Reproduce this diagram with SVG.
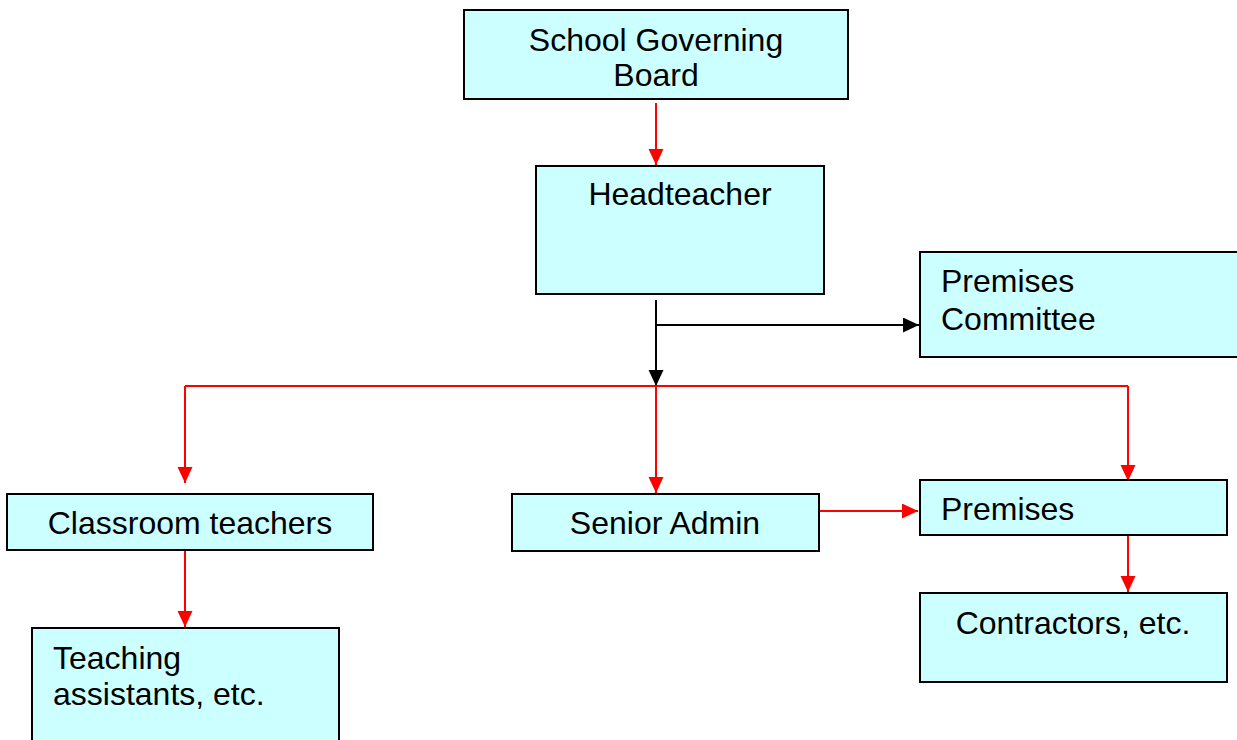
<svg xmlns="http://www.w3.org/2000/svg" width="1237" height="740" viewBox="0 0 1237 740">
<style>
.box{fill:#CCFFFF;stroke:#000;stroke-width:2}
.t{font-family:"Liberation Sans",Arial,sans-serif;font-size:32px;fill:#000}
.c{text-anchor:middle}
.red{stroke:#FF0000;stroke-width:2;fill:none}
.blk{stroke:#000;stroke-width:2;fill:none}
</style>
<defs>
<marker id="ar" markerUnits="userSpaceOnUse" markerWidth="17" markerHeight="16" refX="16" refY="7.5" orient="auto">
<path d="M0,0 L16,7.5 L0,15 Z" fill="#FF0000"/>
</marker>
<marker id="ab" markerUnits="userSpaceOnUse" markerWidth="17" markerHeight="16" refX="16" refY="7.5" orient="auto">
<path d="M0,0 L16,7.5 L0,15 Z" fill="#000"/>
</marker>
</defs>
<rect width="1237" height="740" fill="#fff"/>
<g id="connectors">
<line class="red" x1="656" y1="103" x2="656" y2="165" marker-end="url(#ar)"/>
<line class="blk" x1="656" y1="300" x2="656" y2="386" marker-end="url(#ab)"/>
<line class="blk" x1="656" y1="325" x2="919" y2="325" marker-end="url(#ab)"/>
<line class="red" x1="185" y1="386" x2="1128" y2="386"/>
<line class="red" x1="185" y1="386" x2="185" y2="483" marker-end="url(#ar)"/>
<line class="red" x1="656" y1="386" x2="656" y2="493" marker-end="url(#ar)"/>
<line class="red" x1="1128" y1="386" x2="1128" y2="481" marker-end="url(#ar)"/>
<line class="red" x1="820" y1="511" x2="918" y2="511" marker-end="url(#ar)"/>
<line class="red" x1="1128" y1="536" x2="1128" y2="592" marker-end="url(#ar)"/>
<line class="red" x1="185" y1="551" x2="185" y2="627" marker-end="url(#ar)"/>
</g>
<g id="board">
<rect class="box" x="464" y="10" width="384" height="89"/>
<text class="t c" x="656" y="51">School Governing</text>
<text class="t c" x="656" y="86">Board</text>
</g>
<g id="headteacher">
<rect class="box" x="536" y="166" width="288" height="128"/>
<text class="t c" x="680" y="205">Headteacher</text>
</g>
<g id="premises-committee">
<rect class="box" x="920" y="252" width="318" height="105"/>
<text class="t" x="941" y="292">Premises</text>
<text class="t" x="941" y="330">Committee</text>
</g>
<g id="classroom-teachers">
<rect class="box" x="7" y="494" width="366" height="56"/>
<text class="t c" x="190" y="534">Classroom teachers</text>
</g>
<g id="teaching-assistants">
<rect class="box" x="32" y="628" width="307" height="120"/>
<text class="t" x="53" y="669">Teaching</text>
<text class="t" x="53" y="705">assistants, etc.</text>
</g>
<g id="senior-admin">
<rect class="box" x="512" y="494" width="307" height="57"/>
<text class="t c" x="665" y="534">Senior Admin</text>
</g>
<g id="premises">
<rect class="box" x="920" y="480" width="307" height="55"/>
<text class="t" x="941" y="520">Premises</text>
</g>
<g id="contractors">
<rect class="box" x="920" y="593" width="307" height="89"/>
<text class="t c" x="1073" y="634">Contractors, etc.</text>
</g>
</svg>
